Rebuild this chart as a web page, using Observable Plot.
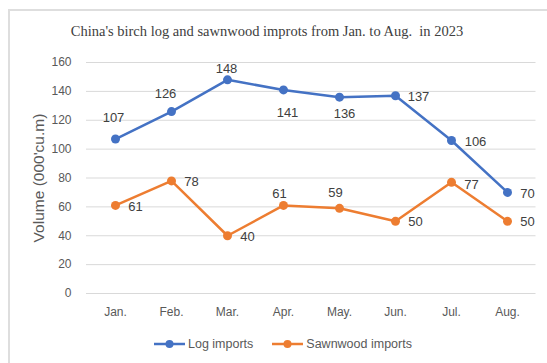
<!DOCTYPE html>
<html>
<head>
<meta charset="utf-8">
<script src="https://cdn.jsdelivr.net/npm/d3@7"></script>
<script src="https://cdn.jsdelivr.net/npm/@observablehq/plot@0.6"></script>
<style>
  html, body { margin: 0; padding: 0; background: #fff; }
  #wrap { position: relative; width: 547px; height: 363px; overflow: hidden; }
  #frame { position: absolute; left: 8px; top: 9px; width: 600px; height: 400px;
           border-left: 2px solid #dedede; border-top: 2px solid #dedede; }
  #title { position: absolute; top: 23px; left: 0; width: 534px; text-align: center;
           font-family: "Liberation Serif", "Times New Roman", serif; font-size: 14.5px;
           line-height: 17px; color: #404040; white-space: pre; }
  #chart svg { position: absolute; left: 0; top: 0; }
  #chart g[aria-label="y-axis label"] text { font-size: 15.5px; }
  #legend { position: absolute; top: 336px; left: 154px; display: flex; align-items: center;
            font-family: "Liberation Sans", Arial, sans-serif; font-size: 12.5px; color: #595959;
            line-height: 16px; }
  #legend .item { display: flex; align-items: center; margin-right: 19px; }
  #legend svg { margin-right: 3px; }
</style>
</head>
<body>
<div id="wrap">
  <div id="frame"></div>
  <div id="title"></div>
  <div id="chart"></div>
  <div id="legend"></div>
</div>
<script>
const chartTitle = "China's birch log and sawnwood improts from Jan. to Aug.  in 2023";
const yLabel = "Volume (000'cu.m)";
const months = ["Jan.", "Feb.", "Mar.", "Apr.", "May.", "Jun.", "Jul.", "Aug."];
const logImports = [107, 126, 148, 141, 136, 137, 106, 70];
const sawnwoodImports = [61, 78, 40, 61, 59, 50, 77, 50];
const yTicks = [0, 20, 40, 60, 80, 100, 120, 140, 160];
const seriesNames = ["Log imports", "Sawnwood imports"];
const seriesColors = ["#4472C4", "#ED7D31"];
// label placement offsets [dx, dy] relative to each point
const logLabelOffsets = [[-2, -21], [-6, -18], [-1, -11], [4, 23], [5, 17], [23, 1], [24, 1], [20, 1]];
const sawnLabelOffsets = [[20, 1], [20, 1], [20, 1], [-4, -12], [-4, -15], [20, 1], [20, 2], [20, 1]];

document.getElementById("title").textContent = chartTitle;

const seriesValues = [logImports, sawnwoodImports];
const seriesOffsets = [logLabelOffsets, sawnLabelOffsets];
const rows = [];
seriesNames.forEach((name, s) => {
  months.forEach((m, i) => rows.push({series: name, month: m, value: seriesValues[s][i], i, s}));
});

const labelMarks = rows.map(r => Plot.text([r], {
  x: "month", y: "value", text: d => String(d.value),
  dx: seriesOffsets[r.s][r.i][0], dy: seriesOffsets[r.s][r.i][1],
  fill: "#404040", fontSize: 13, textAnchor: "middle"
}));

const chart = Plot.plot({
  width: 547,
  height: 330,
  marginLeft: 86,
  marginRight: 11.5,
  marginTop: 62,
  marginBottom: 37,
  style: {fontFamily: "'Liberation Sans', Arial, sans-serif", fontSize: "12px", color: "#595959", background: "transparent", overflow: "visible"},
  x: {type: "point", domain: months, padding: 0.5},
  y: {domain: [0, 160]},
  color: {domain: seriesNames, range: seriesColors},
  marks: [
    Plot.gridY(yTicks, {stroke: "#d9d9d9", strokeOpacity: 1, strokeWidth: 1}),
    Plot.axisY(yTicks, {tickSize: 0, tickPadding: 15, label: yLabel, labelArrow: false, labelAnchor: "center", labelOffset: 54, fill: "#595959"}),
    Plot.axisX({tickSize: 0, tickPadding: 14, label: null, fill: "#595959"}),
    Plot.line(rows, {x: "month", y: "value", z: "series", stroke: "series", strokeWidth: 2.5}),
    Plot.dot(rows, {x: "month", y: "value", fill: "series", r: 4.5, stroke: "none"}),
    ...labelMarks
  ]
});
document.getElementById("chart").appendChild(chart);

const legend = document.getElementById("legend");
seriesNames.forEach((name, s) => {
  const item = document.createElement("div");
  item.className = "item";
  item.innerHTML = `<svg width="31" height="10"><line x1="0" y1="5" x2="31" y2="5" stroke="${seriesColors[s]}" stroke-width="2.5"/><circle cx="15.5" cy="5" r="4" fill="${seriesColors[s]}"/></svg><span>${name}</span>`;
  legend.appendChild(item);
});
</script>
</body>
</html>
